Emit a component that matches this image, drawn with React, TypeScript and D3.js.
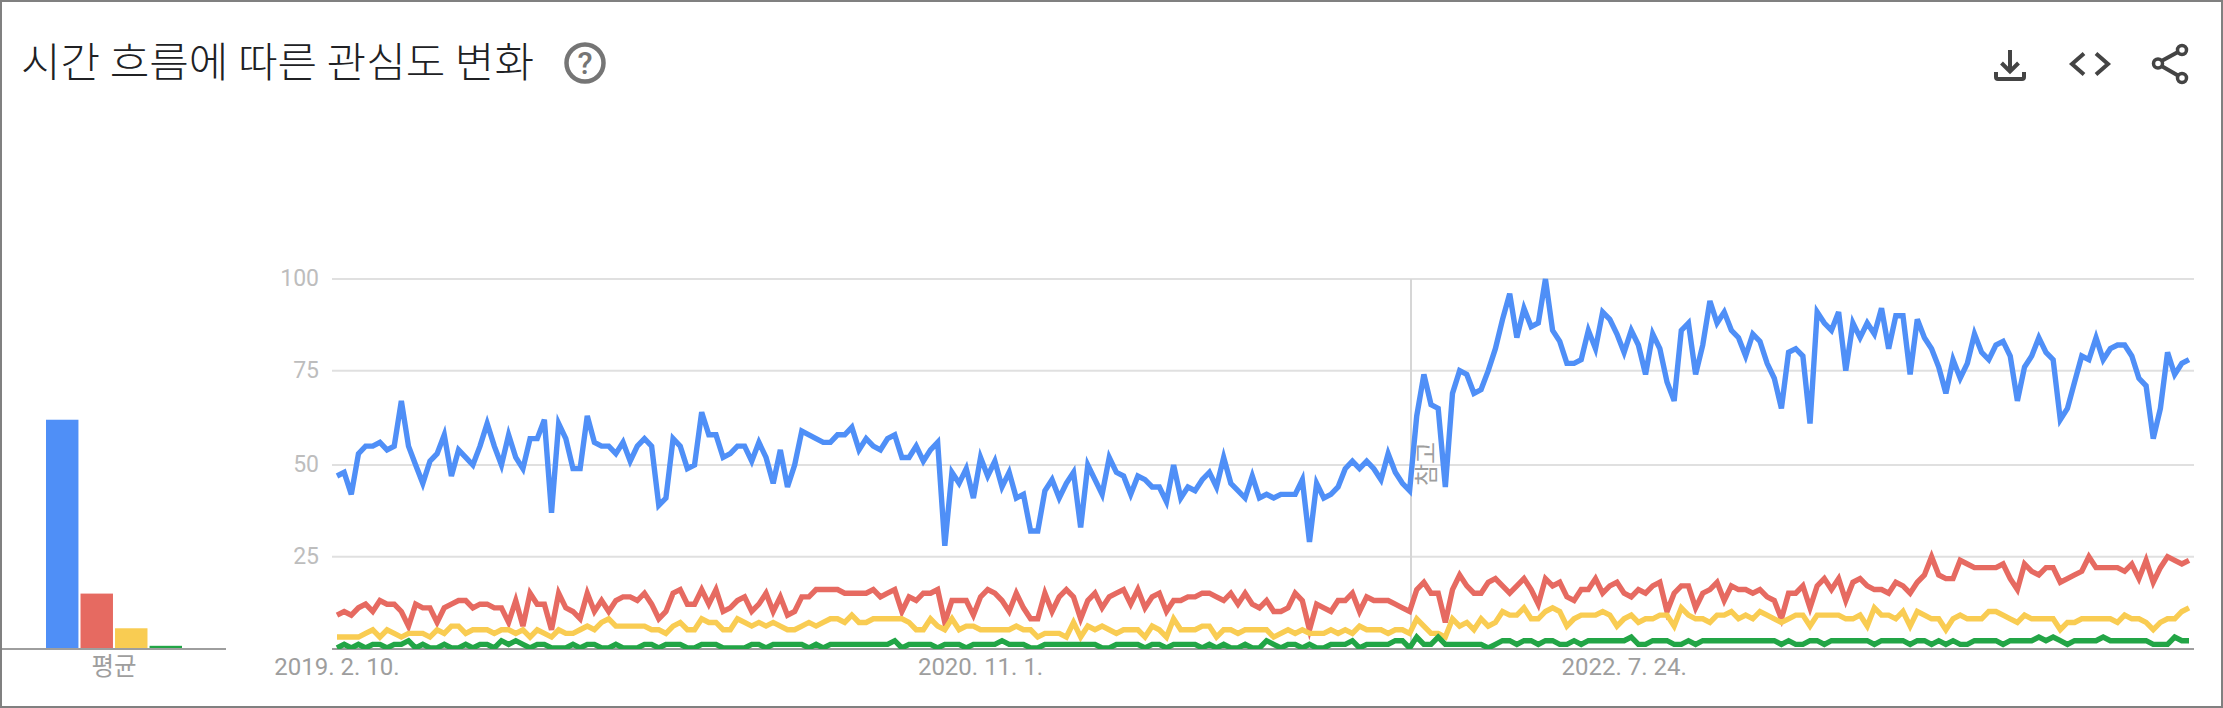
import React from "react";
import * as d3 from "d3";

const title = "시간 흐름에 따른 관심도 변화";
const averageLabel = "평균";
const noteLabel = "참고";
const yTicks = [25, 50, 75, 100];
const xTickIndex = [0, 90, 180];
const xTickLabels = ["2019. 2. 10.", "2020. 11. 1.", "2022. 7. 24."];
const noteIndex = 150.2;
const seriesNames = ["a", "b", "c", "d"];
const seriesColors = ["#4f8ff7", "#e66a61", "#f9cc52", "#22a546"];
const averages = [62, 14.9, 5.4, 0.6];

const blue = [
  47,48,42,53,55,55,56,54,55,67,
  55,50,45,51,53,58,47,54,52,50,
  55,61,55,50,58,52,49,57,57,62,
  37,61,57,49,49,63,56,55,55,53,
  56,51,55,57,55,39,41,57,55,49,
  50,64,58,58,52,53,55,55,51,56,
  52,45,54,44,50,59,58,57,
  56,56,58,58,60,54,57,55,54,57,
  58,52,52,55,51,54,56,28,48,45,
  49,41,52,47,51,44,48,41,42,32,
  32,43,46,41,45,48,33,50,46,42,
  52,48,47,42,47,46,44,44,40,50,
  41,44,43,46,48,44,52,45,43,41,
  47,41,42,41,42,42,42,46,29,45,
  41,42,44,49,51,49,51,49,46,53,
  48,45,43,
  63,74,66,65,44,69,75,74,69,
  70,75,81,89,96,84,92,87,88,100,
  86,83,77,77,78,86,81,91,89,85,
  80,86,82,74,85,81,72,67,86,88,
  74,82,94,88,91,86,84,79,85,83,
  77,73,65,80,81,79,61,91,88,86,
  91,75,88,84,88,85,92,81,90,90,
  74,89,84,81,76,69,78,73,77,85,
  80,78,82,83,79,67,76,79,84,80,
  78,62,65,72,79,78,84,78,81,82,
  82,79,73,71,57,65,80,74,77,78,
];
const red = [
  9,10,9,11,12,10,13,12,12,10,
  6,12,11,11,7,11,12,13,13,11,
  12,12,11,11,7,13,6,15,12,12,
  5,15,11,10,8,15,10,13,10,13,
  14,14,13,15,12,8,10,15,16,12,
  12,16,12,16,10,11,13,14,10,12,
  15,10,14,9,10,14,14,16,
  16,16,16,15,15,15,15,16,14,15,
  16,10,14,13,15,15,16,7,13,13,
  13,9,14,16,15,13,10,15,11,8,
  8,15,10,14,16,14,8,13,15,11,
  14,15,16,12,16,11,14,15,10,13,
  13,14,14,15,15,14,13,15,12,15,
  12,11,13,10,10,11,15,13,5,12,
  11,10,13,13,15,10,14,13,13,13,
  12,11,10,
  16,18,15,15,7,16,20,17,15,
  15,18,19,17,15,17,19,16,12,19,
  17,18,14,13,16,16,19,15,17,18,
  15,14,16,15,17,18,10,15,17,17,
  11,15,16,18,13,17,16,16,15,16,
  14,13,8,15,15,17,11,17,19,16,
  19,13,18,19,17,16,16,15,18,17,
  15,18,20,25,20,19,19,24,23,22,
  22,22,22,23,19,16,23,21,20,22,
  22,18,19,20,21,25,22,22,22,22,
  21,23,19,24,18,22,25,24,23,24,
];
const yellow = [
  3,3,3,3,4,5,3,5,4,3,
  4,4,4,3,5,4,6,6,4,5,
  5,5,4,5,5,4,5,3,5,4,
  3,5,4,4,5,6,5,7,8,6,
  6,6,6,6,5,5,4,6,7,5,
  5,8,7,7,5,5,8,7,6,7,
  6,7,6,5,5,6,7,6,
  7,8,8,7,9,7,7,8,8,8,
  8,8,7,5,5,8,6,5,8,5,
  6,6,5,5,5,5,5,6,5,5,
  3,4,4,4,3,7,3,6,5,6,
  5,4,5,5,5,3,6,5,3,8,
  5,5,5,6,6,3,5,5,4,5,
  5,5,5,3,4,5,4,5,4,4,
  4,5,4,5,4,6,5,5,5,4,
  5,5,4,
  8,6,4,4,3,8,6,7,5,
  8,6,7,10,9,9,11,8,8,10,
  11,10,6,8,9,9,9,10,9,6,
  8,9,7,8,8,9,9,6,11,9,
  8,8,7,9,9,10,8,9,8,10,
  9,8,7,8,9,9,6,9,9,9,
  9,8,8,9,6,11,9,9,8,10,
  6,10,9,8,8,5,8,9,8,8,
  8,10,10,9,8,7,9,8,8,8,
  8,5,7,7,8,8,8,8,8,7,
  9,8,8,7,5,7,8,8,10,11,
];
const green = [
  0,1,0,1,0,1,1,0,1,1,
  2,0,1,0,0,1,0,0,1,0,
  1,1,0,2,1,2,1,0,1,1,
  0,0,0,1,0,1,1,0,0,1,
  0,0,0,1,1,0,1,1,1,0,
  0,1,1,1,0,0,0,0,1,1,
  0,1,1,1,1,1,0,1,
  0,1,1,1,1,1,1,1,1,1,
  2,0,1,1,1,1,0,1,1,1,
  0,1,1,1,1,2,1,1,1,0,
  0,1,1,1,1,1,1,1,1,0,
  0,1,1,1,1,0,1,1,0,1,
  1,1,1,0,1,0,1,0,0,1,
  0,0,2,1,0,1,1,0,1,0,
  0,1,1,1,2,0,1,1,1,1,
  2,2,0,
  3,1,1,3,1,1,1,1,1,
  1,0,1,2,2,1,2,2,1,2,
  2,1,1,2,1,2,2,2,2,2,
  2,3,1,1,2,2,2,1,1,2,
  1,2,2,2,2,2,2,2,2,2,
  2,2,1,2,1,1,2,2,1,2,
  2,2,2,2,2,1,2,2,2,2,
  1,2,2,1,2,1,2,1,1,2,
  2,2,2,1,2,2,2,2,3,2,
  3,2,1,2,2,2,2,3,2,2,
  2,2,2,2,1,1,1,3,2,2,
];
const series = [blue, red, yellow, green];

const W = 2223;
const H = 708;
const plotLeft = 332;
const plotRight = 2194;
const x = d3.scaleLinear().domain([0, 259]).range([337, 2189]);
const y = d3.scaleLinear().domain([0, 25, 50, 75, 100]).range([648, 556.7, 465, 370.7, 279]);
const band = d3.scaleBand<string>().domain(seriesNames).range([46, 182]).paddingInner(0.06);
const line = d3
  .line<number>()
  .x((_, i) => x(i))
  .y((d) => y(d));

const sans = "Roboto, 'Noto Sans', sans-serif";
const kr = "'Noto Sans CJK KR', 'Noto Sans', sans-serif";
const iconColor = "#444444";

export default function App() {
  return (
    <svg
      width={W}
      height={H}
      viewBox={`0 0 ${W} ${H}`}
      style={{ position: "absolute", left: 0, top: 0, display: "block", background: "#fff" }}
    >
      <defs>
        <clipPath id="plot-clip">
          <rect x={plotLeft} y={y(100) - 1} width={plotRight - plotLeft} height={y(0) - y(100) + 2} />
        </clipPath>
      </defs>

      <rect x={1} y={1} width={W - 2} height={H - 2} fill="none" stroke="#808080" strokeWidth={2} />

      <text x={21} y={77} fontFamily={kr} fontWeight={300} fontSize={41} fill="#202124" textLength={513} lengthAdjust="spacingAndGlyphs">
        {title}
      </text>

      <g>
        <circle cx={585} cy={63} r={18.5} fill="none" stroke="#757575" strokeWidth={4.5} />
        <text x={585} y={74} textAnchor="middle" fontFamily={sans} fontWeight={500} fontSize={31} fill="#757575">?</text>
      </g>

      <g fill="none" stroke={iconColor} strokeWidth={4}>
        <path d="M2010 50V71M2001.5 63L2010 71.5L2018.5 63" />
        <path d="M1996 72V77Q1996 79 1998 79H2022Q2024 79 2024 77V72" />
        <path d="M2084 53.5L2072 64L2084 74.5" />
        <path d="M2096 53.5L2108 64L2096 74.5" />
        <path d="M2161.5 61L2178 52M2161.5 66L2178 75.5" />
        <circle cx={2182} cy={50} r={4.5} strokeWidth={3.5} />
        <circle cx={2158} cy={63.5} r={4.5} strokeWidth={3.5} />
        <circle cx={2182} cy={78} r={4.5} strokeWidth={3.5} />
      </g>

      {averages.map((v, i) => (
        <rect
          key={seriesNames[i]}
          x={band(seriesNames[i])}
          y={y(v)}
          width={band.bandwidth()}
          height={y(0) - y(v)}
          fill={seriesColors[i]}
        />
      ))}
      <line x1={2} x2={226} y1={649} y2={649} stroke="#9e9e9e" strokeWidth={2} />
      <text x={114} y={675} textAnchor="middle" fontFamily={kr} fontSize={24.5} fill="#9e9e9e">
        {averageLabel}
      </text>

      {yTicks.map((t) => (
        <g key={t}>
          <line x1={plotLeft} x2={plotRight} y1={y(t)} y2={y(t)} stroke="#e0e0e0" strokeWidth={2} />
          <text x={319} y={y(t) + 7} textAnchor="end" fontFamily={sans} fontSize={23} fill="#bdbdbd">
            {t}
          </text>
        </g>
      ))}
      <line x1={plotLeft} x2={plotRight} y1={649} y2={649} stroke="#9e9e9e" strokeWidth={2} />

      <line x1={x(noteIndex)} x2={x(noteIndex)} y1={y(100)} y2={y(0)} stroke="#d6d6d6" strokeWidth={2} />
      <text
        transform={`translate(${x(noteIndex) + 24},464) rotate(-90)`}
        textAnchor="middle"
        fontFamily={kr}
        fontSize={24}
        fill="#9e9e9e"
      >
        {noteLabel}
      </text>

      {xTickLabels.map((label, i) => (
        <text
          key={label}
          x={x(xTickIndex[i])}
          y={675}
          textAnchor="middle"
          fontFamily={sans}
          fontSize={24}
          fill="#9e9e9e"
        >
          {label}
        </text>
      ))}

      <g clipPath="url(#plot-clip)" fill="none" strokeWidth={5.4} strokeLinejoin="miter" strokeMiterlimit={4}>
        {series.map((values, i) => (
          <path key={seriesNames[i]} d={line(values) ?? ""} stroke={seriesColors[i]} />
        ))}
      </g>
    </svg>
  );
}
